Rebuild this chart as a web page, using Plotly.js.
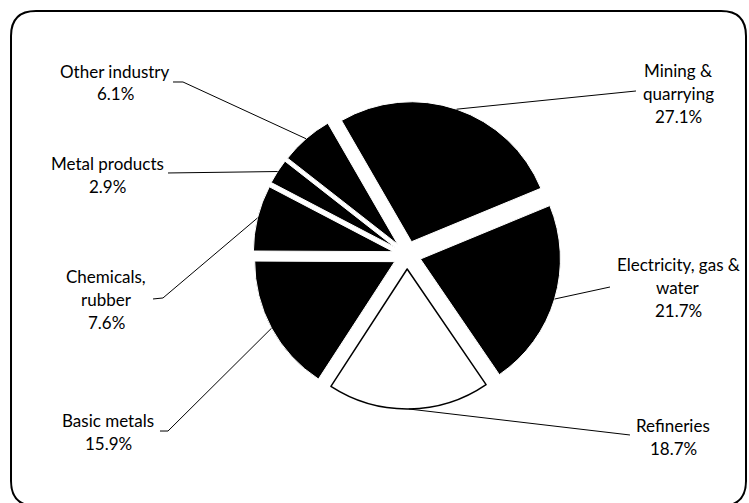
<!DOCTYPE html>
<html>
<head>
<meta charset="utf-8">
<script src="https://cdn.plot.ly/plotly-3.0.1.min.js"></script>
<style>html,body{margin:0;padding:0;background:#fff;}</style>
</head>
<body>
<div id="chart" style="width:749px;height:503px;"></div>
<script>
// data, clockwise from 12 o'clock
var sectors = ["Mining & quarrying", "Electricity, gas & water", "Refineries", "Basic metals",
               "Chemicals, rubber", "Metal products", "Other industry"];
var shares = [27.1, 21.7, 18.7, 15.9, 7.6, 2.9, 6.1];
var labelLines = [["Mining &", "quarrying"], ["Electricity, gas &", "water"], ["Refineries"],
                  ["Basic metals"], ["Chemicals,", "rubber"], ["Metal products"], ["Other industry"]];
var sliceColors = ["#000", "#000", "#fff", "#000", "#000", "#000", "#000"];

// layout in pixels
var W = 749, H = 503;
var CX = 407, CY = 255, R = 140, PULL = 0.1, ROT = -30;
var LINE_GAP = 23;
// label centre x / first line y, then leader start + optional elbow
var labelPos = [
  {x: 678, y: 70,  lead: [[636, 91]]},
  {x: 678, y: 264, lead: [[610, 287]]},
  {x: 673, y: 425, lead: [[630, 435]]},
  {x: 108, y: 420, lead: [[160, 431], [168, 431]]},
  {x: 106, y: 276, lead: [[153, 299], [163, 298]]},
  {x: 107, y: 163, lead: [[168, 173]]},
  {x: 115, y: 71,  lead: [[173, 82], [183, 82]]}
];

function px(x) { return x / W; }
function py(y) { return 1 - y / H; }

var half = R * (1 + PULL);
var trace = {
  type: "pie",
  labels: sectors,
  values: shares,
  sort: false,
  direction: "clockwise",
  rotation: ROT,
  pull: shares.map(function () { return PULL; }),
  textinfo: "none",
  hoverinfo: "label+percent",
  marker: {
    colors: sliceColors,
    line: {
      color: sliceColors.map(function (c) { return c === "#fff" ? "#000" : "#fff"; }),
      width: sliceColors.map(function (c) { return c === "#fff" ? 1.5 : 1; })
    }
  },
  domain: {x: [px(CX - half), px(CX + half)], y: [py(CY + half), py(CY - half)]},
  showlegend: false
};

var annotations = [];
var shapes = [];
var total = shares.reduce(function (a, b) { return a + b; }, 0);
var cum = 0;
shares.forEach(function (v, i) {
  var mid = (ROT + (cum + v / 2) / total * 360) * Math.PI / 180;
  cum += v;
  // slice centre after pull, then point on its rim
  var sx = CX + PULL * R * Math.sin(mid), sy = CY - PULL * R * Math.cos(mid);
  var ex = sx + R * Math.sin(mid), ey = sy - R * Math.cos(mid);

  var lines = labelLines[i].concat([v.toFixed(1) + "%"]);
  lines.forEach(function (t, k) {
    annotations.push({
      xref: "paper", yref: "paper",
      x: px(labelPos[i].x), y: py(labelPos[i].y + k * LINE_GAP),
      text: t, showarrow: false, xanchor: "center", yanchor: "middle",
      font: {family: "Lato, sans-serif", size: 17, color: "#000"}
    });
  });

  var pts = labelPos[i].lead.concat([[ex, ey]]);
  var path = pts.map(function (p, k) {
    return (k ? "L" : "M") + px(p[0]).toFixed(4) + "," + py(p[1]).toFixed(4);
  }).join(" ");
  shapes.push({type: "path", xref: "paper", yref: "paper", path: path,
               line: {color: "#000", width: 1}});
});

// rounded frame
var fx0 = 11, fx1 = 746, fy0 = 11, fy1 = 506, rc = 25;
var frame = [
  "M", px(fx0 + rc), py(fy0), "L", px(fx1 - rc), py(fy0),
  "Q", px(fx1), py(fy0), px(fx1), py(fy0 + rc),
  "L", px(fx1), py(fy1 - rc),
  "Q", px(fx1), py(fy1), px(fx1 - rc), py(fy1),
  "L", px(fx0 + rc), py(fy1),
  "Q", px(fx0), py(fy1), px(fx0), py(fy1 - rc),
  "L", px(fx0), py(fy0 + rc),
  "Q", px(fx0), py(fy0), px(fx0 + rc), py(fy0), "Z"
].map(function (t) { return typeof t === "number" ? t.toFixed(4) : t; }).join(" ");
shapes.push({type: "path", xref: "paper", yref: "paper", path: frame,
             line: {color: "#000", width: 2}});

var layout = {
  width: W, height: H,
  margin: {l: 0, r: 0, t: 0, b: 0},
  paper_bgcolor: "#fff",
  showlegend: false,
  annotations: annotations,
  shapes: shapes
};

Plotly.newPlot("chart", [trace], layout, {displayModeBar: false, staticPlot: true});
</script>
</body>
</html>
